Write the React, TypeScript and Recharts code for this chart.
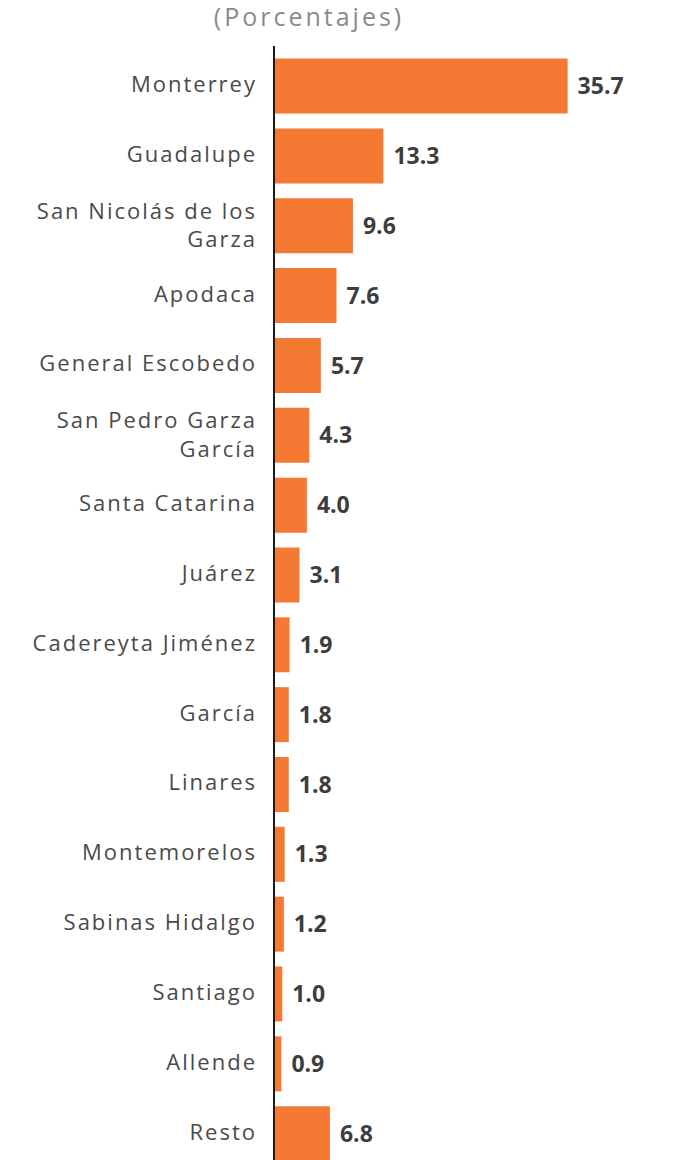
import React from 'react';
import { BarChart, Bar, XAxis, YAxis, LabelList } from 'recharts';

const categories: string[] = [
  'Monterrey',
  'Guadalupe',
  'San Nicolás de los\nGarza',
  'Apodaca',
  'General Escobedo',
  'San Pedro Garza\nGarcía',
  'Santa Catarina',
  'Juárez',
  'Cadereyta Jiménez',
  'García',
  'Linares',
  'Montemorelos',
  'Sabinas Hidalgo',
  'Santiago',
  'Allende',
  'Resto',
];
const values: number[] = [35.7, 13.3, 9.6, 7.6, 5.7, 4.3, 4.0, 3.1, 1.9, 1.8, 1.8, 1.3, 1.2, 1.0, 0.9, 6.8];
const title = '(Porcentajes)';

const data = categories.map((name, i) => ({ name, value: values[i] }));

const FONT = '"Open Sans", "Noto Sans", sans-serif';

const CategoryTick = (props: any) => {
  const { y, payload } = props;
  const lines = String(payload.value).split('\n');
  const first = lines.length === 1 ? 5.5 : -7.5;
  return (
    <text
      x={249}
      y={y}
      textAnchor="end"
      fill="#4a4a4a"
      fontSize={22}
      fontFamily={FONT}
      letterSpacing={2}
    >
      {lines.map((l, i) => (
        <tspan key={i} x={249} y={y + first + i * 28.5}>
          {l}
        </tspan>
      ))}
    </text>
  );
};

export default function App() {
  return (
    <div style={{ position: 'relative', width: 669, height: 1161 }}>
      <svg
        width={669}
        height={40}
        style={{ position: 'absolute', left: 0, top: 0, overflow: 'visible' }}
      >
        <text
          x={301}
          y={18}
          textAnchor="middle"
          fill="#8a8a8a"
          fontSize={25}
          fontFamily={FONT}
          letterSpacing={3}
        >
          {title}
        </text>
      </svg>
      <BarChart
        width={669}
        height={1161}
        data={data}
        layout="vertical"
        margin={{ top: 38, right: 0, bottom: 0, left: 0 }}
      >
        <XAxis type="number" domain={[0, 49]} hide />
        <YAxis
          type="category"
          dataKey="name"
          width={266}
          axisLine={{ stroke: '#1a1a1a', strokeWidth: 2 }}
          tickLine={false}
          tick={<CategoryTick />}
          interval={0}
          padding={{ top: 5.6, bottom: 0 }}
        />
        <Bar dataKey="value" fill="#F47A33" barSize={55} isAnimationActive={false}>
          <LabelList
            dataKey="value"
            position="right"
            offset={10}
            fill="#3d3d3d"
            fontSize={23}
            fontWeight="bold"
            fontFamily={FONT}
            formatter={(v: any) => Number(v).toFixed(1)}
          />
        </Bar>
      </BarChart>
    </div>
  );
}
